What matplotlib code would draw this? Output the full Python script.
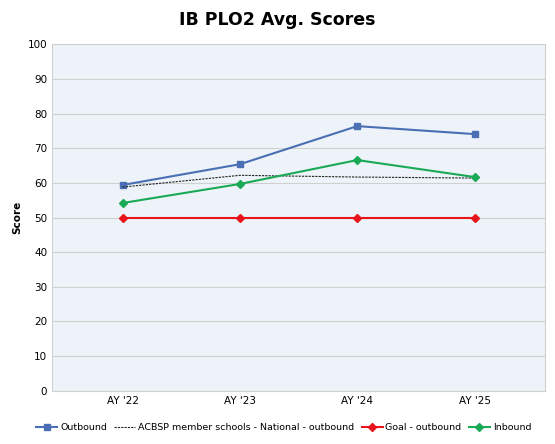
import matplotlib
matplotlib.use("Agg")
import matplotlib.pyplot as plt

categories = ["AY '22", "AY '23", "AY '24", "AY '25"]
outbound = [59.4, 65.4, 76.4, 74.1]
acbsp = [58.8, 62.2, 61.7, 61.4]
goal = [50, 50, 50, 50]
inbound = [54.2, 59.7, 66.6, 61.7]

fig = plt.figure(figsize=(5.55, 4.44), dpi=100)
ax = fig.add_axes([0.094, 0.12, 0.888, 0.78])
ax.set_facecolor("#eef3f9")
x = range(len(categories))
ax.plot(x, outbound, color="#4a6fb5", marker="s", ms=5, lw=1.5, label="Outbound")
ax.plot(x, acbsp, color="#222222", ls=(0, (2, 1)), lw=0.8, label="ACBSP member schools - National - outbound")
ax.plot(x, goal, color="#e8141c", marker="D", ms=4, lw=1.5, label="Goal - outbound")
ax.plot(x, inbound, color="#1aaa55", marker="D", ms=4, lw=1.5, label="Inbound")
ax.set_xlim(-0.6, 3.6)
ax.set_ylim(0, 100)
ax.set_yticks(range(0, 101, 10))
ax.set_xticks(list(x))
ax.set_xticklabels(categories)
ax.tick_params(labelsize=7.5, length=0)
ax.yaxis.grid(True, color="#d0d0d0", lw=0.8)
ax.set_axisbelow(True)
for s in ax.spines.values():
    s.set_color("#d0d0d0")
ax.set_ylabel("Score", fontsize=7.5, fontweight="bold")
fig.suptitle("IB PLO2 Avg. Scores", fontsize=12.5, fontweight="bold", y=0.975)
ax.legend(loc="upper center", bbox_to_anchor=(0.47, -0.07), ncol=4, frameon=False,
          fontsize=6.8, handlelength=2.2, columnspacing=0.8, handletextpad=0.3)
fig.savefig("out.png", dpi=100)
